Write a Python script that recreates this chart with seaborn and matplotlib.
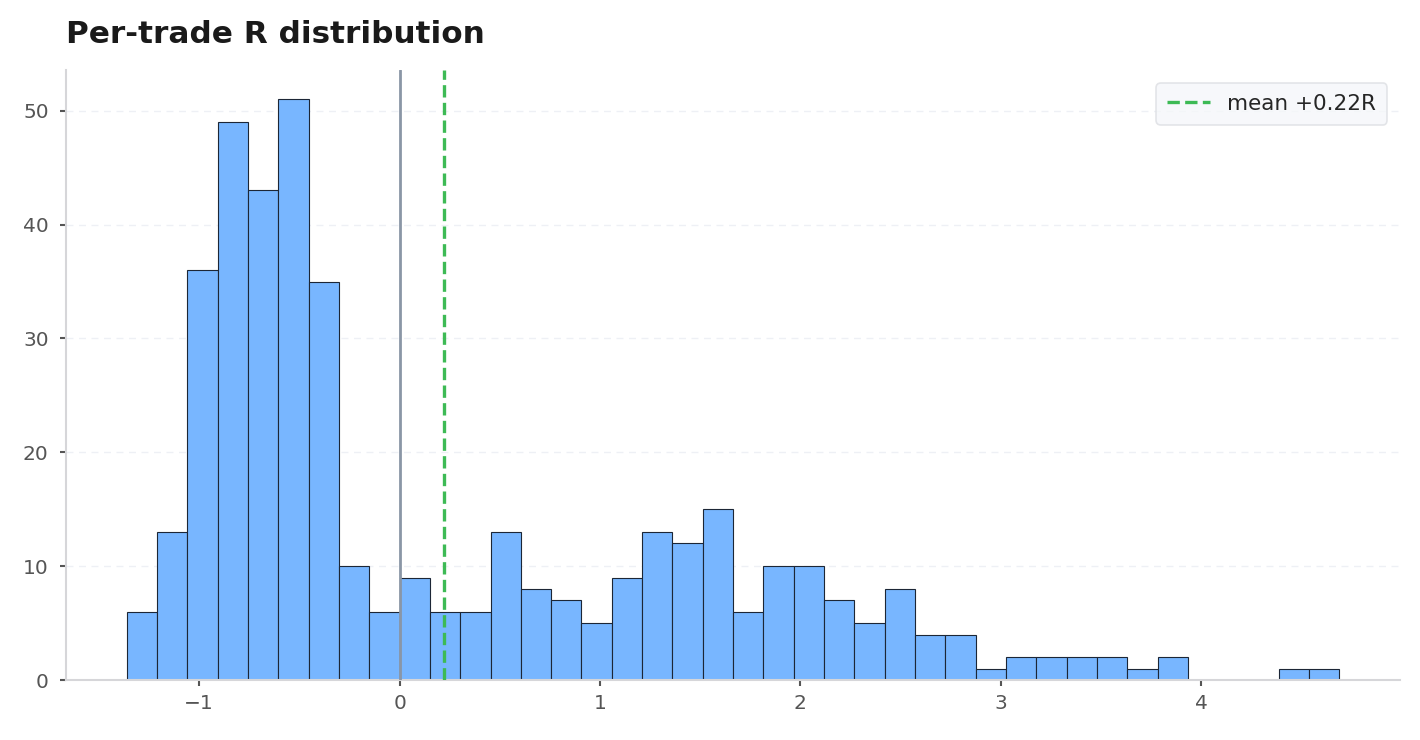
import numpy as np
import pandas as pd
import matplotlib
matplotlib.use("Agg")
import matplotlib.pyplot as plt
import seaborn as sns

# Histogram data
bin_start = -1.362
bin_end = 4.691
n_bins = 40
counts = [6, 13, 36, 49, 43, 51, 35, 10, 6, 9,
          6, 6, 13, 8, 7, 5, 9, 13, 12, 15,
          6, 10, 10, 7, 5, 8, 4, 4, 1, 2,
          2, 2, 2, 1, 2, 0, 0, 0, 1, 1]
mean_r = 0.22
title = "Per-trade R distribution"
legend_label = "mean +0.22R"

edges = np.linspace(bin_start, bin_end, n_bins + 1)
centers = (edges[:-1] + edges[1:]) / 2
df = pd.DataFrame({"R": centers, "count": np.asarray(counts, dtype=float)})

sns.set_theme(style="white")
plt.rcParams['font.family'] = ['DejaVu Sans']

fig, ax = plt.subplots(figsize=(14.2, 7.4), dpi=100)
fig.subplots_adjust(left=0.0465, right=0.986, top=0.905, bottom=0.081)

sns.histplot(data=df, x="R", weights="count", bins=list(edges), ax=ax,
             color="#78b6ff", alpha=1.0, edgecolor="#1c2636", linewidth=0.8,
             zorder=2)

ax.axvline(0, color="#8a96a6", linewidth=2, zorder=3)
ax.axvline(mean_r, color="#3dba55", linewidth=2.4, linestyle="--",
           zorder=4, label=legend_label)

ax.grid(axis="y", color="#eef0f5", linestyle=(0, (5, 4)), linewidth=1)
ax.set_axisbelow(True)
sns.despine(ax=ax)
for s in ["left", "bottom"]:
    ax.spines[s].set_color("#d6d6d9")
    ax.spines[s].set_linewidth(1.5)

ax.set_xlabel("")
ax.set_ylabel("")
ax.set_yticks([0, 10, 20, 30, 40, 50])
ax.set_xticks([-1, 0, 1, 2, 3, 4])
ax.set_xticklabels(["\u22121", "0", "1", "2", "3", "4"])
ax.tick_params(axis="both", labelsize=14.5, labelcolor="#555555", colors="#555555",
               length=4.5, width=1.5, bottom=True, left=True)
ax.tick_params(axis="x", pad=5.7)
ax.tick_params(axis="y", pad=8)

ax.set_title(title, loc="left", fontsize=22.4, fontweight="bold", color="#1a1a1a", pad=20)

leg = ax.legend(loc="upper right", fontsize=15.5, frameon=True, facecolor="#f5f7fa",
                edgecolor="#dddfe3", fancybox=True, handlelength=2.0,
                borderpad=0.5, borderaxespad=0.6)
leg.get_frame().set_linewidth(1.2)

fig.savefig("out.png", dpi=100)
